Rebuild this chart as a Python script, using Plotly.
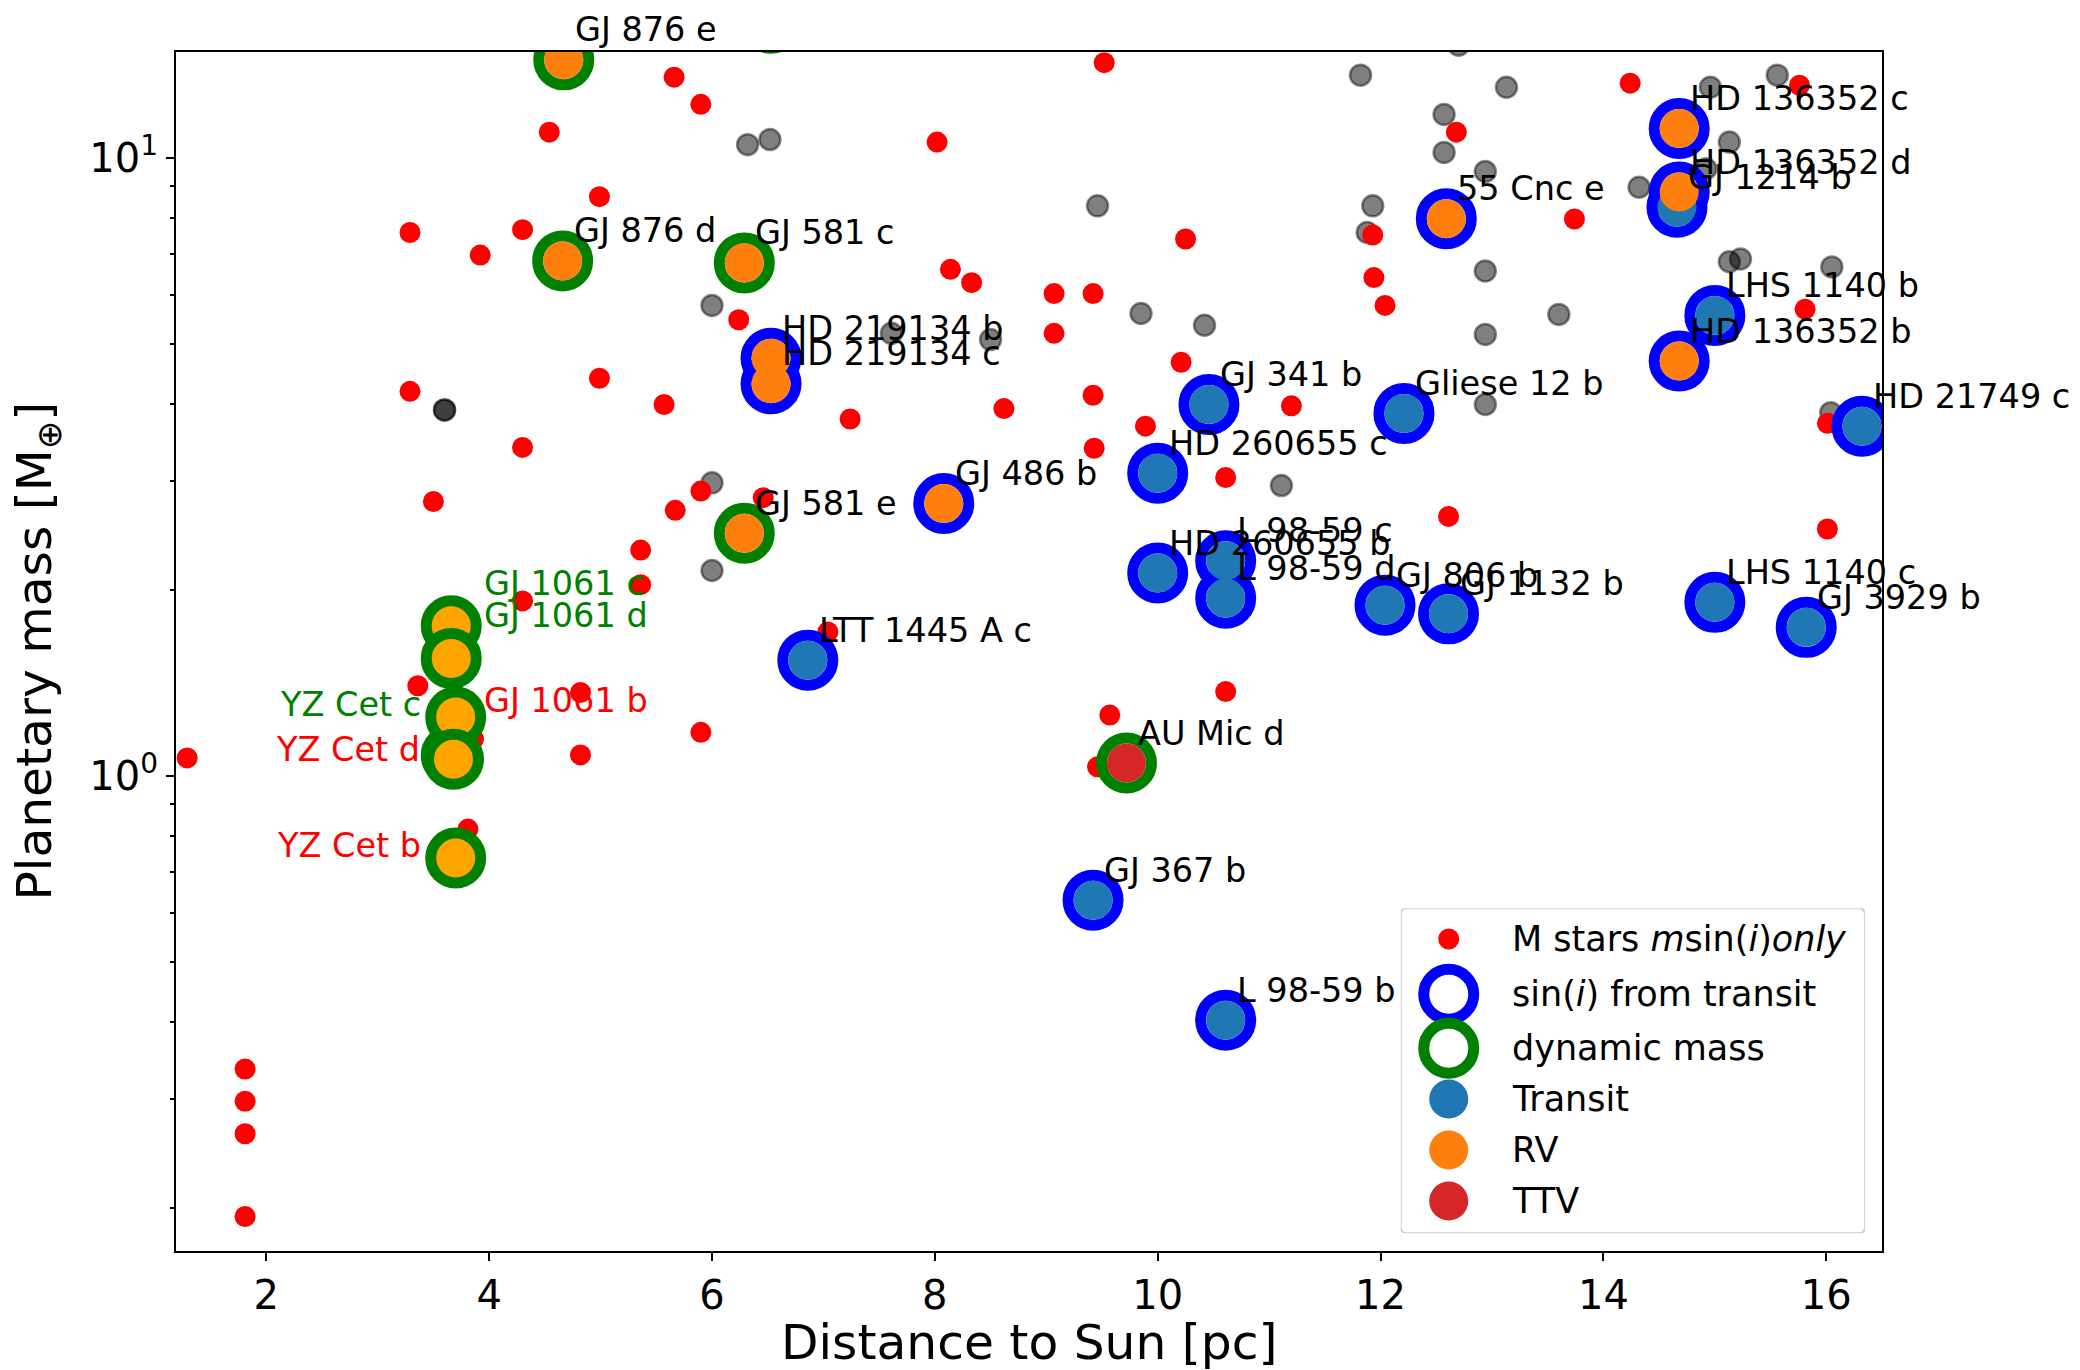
import numpy as np
import plotly.graph_objects as go

# ---------------- data ----------------
# M-dwarf planets with only a minimum mass (m sin i)
msini_dist = [1.29, 1.81, 1.81, 1.81, 1.81, 3.29, 3.29, 3.36, 3.50, 3.81, 3.86, 3.92,
              4.30, 4.30, 4.30, 4.54, 4.82, 4.82, 4.99, 4.99, 5.36, 5.36, 5.57, 5.66,
              5.67, 5.90, 5.90, 5.90, 6.24, 6.46, 7.04, 7.24, 8.02, 8.14, 8.33, 8.62,
              9.07, 9.07, 9.42, 9.42, 9.43, 9.52, 9.57, 9.46, 9.89, 10.21, 10.25, 10.61,
              10.61, 11.20, 11.93, 11.94, 12.04, 12.61, 12.68, 13.74, 14.24, 15.76, 15.81,
              16.01, 16.01]
msini_mass = [1.07, 0.336, 0.298, 0.264, 0.194, 7.57, 4.19, 1.40, 2.78, 0.821, 1.148, 6.96,
              7.65, 3.40, 1.92, 11.0, 1.365, 1.082, 8.65, 4.40, 2.32, 2.04, 3.99, 13.5,
              2.69, 12.2, 2.89, 1.177, 5.47, 2.82, 1.71, 3.78, 10.6, 6.60, 6.28, 3.93,
              6.03, 5.20, 6.03, 4.13, 3.39, 14.25, 1.255, 1.035, 3.68, 4.67, 7.39, 3.04,
              1.37, 3.97, 7.50, 6.40, 5.77, 2.63, 11.0, 7.96, 13.2, 13.1, 5.69,
              3.72, 2.51]

# other (non M-dwarf) host stars, m sin i
other_dist = [6.32, 6.52, 11.82, 13.13, 12.57, 12.57, 12.94, 9.46, 11.93, 11.88, 12.94, 6.00,
              9.85, 10.42, 12.94, 7.61, 8.50, 13.60, 12.94, 11.11, 6.00, 6.00, 3.60, 3.60,
              15.56, 14.96, 15.13, 14.92, 14.32, 15.13, 15.23, 16.05, 16.04, 12.70]
other_mass = [10.5, 10.7, 13.6, 13.0, 11.75, 10.2, 9.50, 8.36, 8.36, 7.57, 6.56, 5.77,
              5.60, 5.36, 5.18, 5.20, 5.08, 5.58, 3.99, 2.95, 2.98, 2.15, 3.91, 3.91,
              13.6, 13.0, 10.6, 9.60, 8.96, 6.79, 6.86, 6.66, 3.87, 15.2]

# planets with true masses
planet_names = ["GJ 1214 b", "LHS 1140 b", "HD 21749 c", "GJ 341 b", "Gliese 12 b",
                "HD 260655 c", "HD 260655 b", "L 98-59 c", "L 98-59 d", "GJ 806 b",
                "GJ 1132 b", "LTT 1445 A c", "GJ 367 b", "L 98-59 b", "LHS 1140 c",
                "GJ 3929 b",
                "HD 219134 b", "HD 219134 c", "GJ 486 b", "55 Cnc e", "HD 136352 c",
                "HD 136352 d", "HD 136352 b",
                "GJ 876 e", "GJ 876 d", "GJ 581 c", "GJ 581 e", "",
                "AU Mic d"]
planet_dist = [14.66, 15.00, 16.32, 10.46, 12.21,
               10.00, 10.00, 10.61, 10.61, 12.04,
               12.61, 6.86, 9.42, 10.61, 15.00,
               15.82,
               6.53, 6.53, 8.08, 12.59, 14.68,
               14.68, 14.68,
               4.67, 4.66, 6.29, 6.29, 6.53,
               9.72]
planet_mass = [8.32, 5.56, 3.68, 3.99, 3.86,
               3.09, 2.13, 2.23, 1.94, 1.89,
               1.83, 1.54, 0.63, 0.403, 1.91,
               1.74,
               4.74, 4.31, 2.76, 7.97, 11.15,
               8.80, 4.69,
               14.4, 6.81, 6.76, 2.47, 16.5,
               1.05]
planet_method = ["Transit"] * 16 + ["RV"] * 7 + ["RV"] * 5 + ["TTV"]
planet_constraint = ["sin(i) from transit"] * 23 + ["dynamic mass"] * 6

# GJ 1061 / YZ Cet systems (dynamic masses)
near_names = ["GJ 1061 c", "GJ 1061 d", "GJ 1061 b", "YZ Cet c", "YZ Cet d", "YZ Cet b"]
near_dist = [3.66, 3.66, 3.66, 3.70, 3.68, 3.70]
near_mass = [1.75, 1.55, 1.08, 1.246, 1.065, 0.737]
near_label_color = ["green", "green", "red", "green", "red", "red"]

x_ticks = [2, 4, 6, 8, 10, 12, 14, 16]
y_ticks = [1, 10]
y_ticktext = ["10<sup>0</sup>", "10<sup>1</sup>"]
y_minor = [0.2, 0.3, 0.4, 0.5, 0.6, 0.7, 0.8, 0.9, 2, 3, 4, 5, 6, 7, 8, 9]

legend_labels = ["M stars <i>m</i>sin(<i>i</i>)<i>only</i>", "sin(<i>i</i>) from transit",
                 "dynamic mass", "Transit", "RV", "TTV"]

# ---------------- styles ----------------
FONT = "DejaVu Sans"
METHOD_COLOR = {"Transit": "#1f77b4", "RV": "#ff7f0e", "TTV": "#d62728"}
RING_COLOR = {"sin(i) from transit": "#0000ff", "dynamic mass": "#008000"}
RING_SIZE, RING_W, FILL_SIZE, DOT_SIZE = 50, 11, 39, 21
LABEL_FONT = 33.5

fig = go.Figure()

fig.add_trace(go.Scatter(
    x=other_dist, y=other_mass, mode="markers", name="other stars",
    marker=dict(size=DOT_SIZE, color="rgba(0,0,0,0.5)",
                line=dict(color="rgba(0,0,0,0.45)", width=2.5)),
    hoverinfo="x+y"))
fig.add_trace(go.Scatter(
    x=msini_dist, y=msini_mass, mode="markers", name="M stars msin(i) only",
    marker=dict(size=DOT_SIZE, color="#ff0000", line=dict(width=0)),
    hoverinfo="x+y"))

# rings (hollow)
for cons in ["sin(i) from transit", "dynamic mass"]:
    idx = [i for i, c in enumerate(planet_constraint) if c == cons]
    fig.add_trace(go.Scatter(
        x=[planet_dist[i] for i in idx], y=[planet_mass[i] for i in idx],
        mode="markers", name=cons,
        marker=dict(size=RING_SIZE, color="rgba(0,0,0,0)",
                    line=dict(color=RING_COLOR[cons], width=RING_W)),
        hoverinfo="skip"))

# fills
for meth in ["Transit", "RV", "TTV"]:
    idx = [i for i, m in enumerate(planet_method) if m == meth]
    fig.add_trace(go.Scatter(
        x=[planet_dist[i] for i in idx], y=[planet_mass[i] for i in idx],
        mode="markers", name=meth, text=[planet_names[i] for i in idx],
        marker=dict(size=FILL_SIZE, color=METHOD_COLOR[meth], line=dict(width=0)),
        hoverinfo="text+x+y"))

# GJ 1061 / YZ Cet
fig.add_trace(go.Scatter(
    x=near_dist, y=near_mass, mode="markers", name="GJ 1061 / YZ Cet", text=near_names,
    marker=dict(size=RING_SIZE, color="#ffa500", line=dict(color="#008000", width=RING_W)),
    hoverinfo="text+x+y"))

# labels
for n, xv, yv in zip(planet_names, planet_dist, planet_mass):
    if not n:
        continue
    fig.add_annotation(x=xv, y=np.log10(yv), xref="x", yref="y", text=n, showarrow=False,
                       xanchor="left", yanchor="middle", xshift=9, yshift=30,
                       font=dict(family=FONT, size=LABEL_FONT, color="black"))

near_shift = {"GJ 1061 c": ("left", 31, 42), "GJ 1061 d": ("left", 31, 43),
              "GJ 1061 b": ("left", 31, 55), "YZ Cet c": ("right", -33, 13),
              "YZ Cet d": ("right", -31, 10), "YZ Cet b": ("right", -33, 13)}
for n, xv, yv, col in zip(near_names, near_dist, near_mass, near_label_color):
    anc, dx, dy = near_shift[n]
    fig.add_annotation(x=xv, y=np.log10(yv), xref="x", yref="y", text=n, showarrow=False,
                       xanchor=anc, yanchor="middle", xshift=dx, yshift=dy,
                       font=dict(family=FONT, size=LABEL_FONT, color=col))

# ---------------- axes ----------------
axis_common = dict(showline=True, linecolor="black", linewidth=2, mirror=True,
                   ticks="outside", ticklen=8, tickwidth=2, tickcolor="black",
                   showgrid=False, zeroline=False, automargin=False,
                   tickfont=dict(family=FONT, size=40, color="black"))
fig.update_xaxes(range=[1.19, 16.50], tickvals=x_ticks, **axis_common)
fig.update_yaxes(type="log", range=[-0.768, 1.171], tickvals=y_ticks, ticktext=y_ticktext,
                 minor=dict(ticks="outside", ticklen=4.5, tickwidth=1.5, tickcolor="black",
                            tickvals=y_minor, showgrid=False),
                 **axis_common)

fig.add_annotation(x=0.5, y=0, xref="paper", yref="paper", text="Distance to Sun [pc]",
                   showarrow=False, xanchor="center", yanchor="middle", yshift=-91,
                   font=dict(family=FONT, size=48.7, color="black"))
fig.add_annotation(x=0, y=0.5, xref="paper", yref="paper",
                   text="Planetary mass [M<sub>⊕</sub>]", textangle=-90,
                   showarrow=False, xanchor="center", yanchor="middle", xshift=-139,
                   font=dict(family=FONT, size=48.7, color="black"))

# ---------------- legend (drawn in its own small axes) ----------------
LEG = dict(x0=0.7179, x1=0.9900, y0=0.0148, y1=0.2858)
rows = [0.9055, 0.7354, 0.5692, 0.4132, 0.2563, 0.0994]
mx, tx = 0.1034, 0.2354
fig.update_layout(
    xaxis2=dict(domain=[LEG["x0"], LEG["x1"]], range=[0, 1], visible=False,
                anchor="y2", fixedrange=True),
    yaxis2=dict(domain=[LEG["y0"], LEG["y1"]], range=[0, 1], visible=False,
                anchor="x2", fixedrange=True))
rx, ry = 0.014, 0.02
path = (f"M {rx},0 L {1-rx},0 Q 1,0 1,{ry} L 1,{1-ry} Q 1,1 {1-rx},1 "
        f"L {rx},1 Q 0,1 0,{1-ry} L 0,{ry} Q 0,0 {rx},0 Z")
fig.add_shape(type="path", path=path, xref="x2", yref="y2", layer="below",
              line=dict(color="#d0d0d0", width=2), fillcolor="rgba(255,255,255,0.8)")
leg_markers = [
    dict(size=DOT_SIZE, color="#ff0000", line=dict(width=0)),
    dict(size=RING_SIZE, color="rgba(0,0,0,0)", line=dict(color="#0000ff", width=RING_W)),
    dict(size=RING_SIZE, color="rgba(0,0,0,0)", line=dict(color="#008000", width=RING_W)),
    dict(size=FILL_SIZE, color=METHOD_COLOR["Transit"], line=dict(width=0)),
    dict(size=FILL_SIZE, color=METHOD_COLOR["RV"], line=dict(width=0)),
    dict(size=FILL_SIZE, color=METHOD_COLOR["TTV"], line=dict(width=0)),
]
for lab, ry_, mk in zip(legend_labels, rows, leg_markers):
    fig.add_trace(go.Scatter(x=[mx], y=[ry_], xaxis="x2", yaxis="y2", mode="markers",
                             marker=mk, hoverinfo="skip", showlegend=False, cliponaxis=False))
    fig.add_annotation(x=tx, y=ry_, xref="x2", yref="y2", text=lab, showarrow=False,
                       xanchor="left", yanchor="middle",
                       font=dict(family=FONT, size=35, color="black"))

fig.update_layout(
    width=2080, height=1370,
    margin=dict(l=176, r=198, t=52, b=119, autoexpand=False),
    paper_bgcolor="white", plot_bgcolor="white",
    font=dict(family=FONT, color="black"),
    showlegend=False,
)

fig.write_html("out.html")
